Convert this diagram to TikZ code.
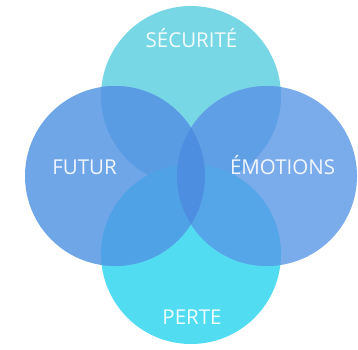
\documentclass[tikz,border=0pt]{standalone}
\usepackage{fontspec}
\setmainfont{Open Sans}

% single-circle colours
\definecolor{cTop}{HTML}{78D7E5}
\definecolor{cBot}{HTML}{52DCF2}
\definecolor{cLeft}{HTML}{6FA6E8}
\definecolor{cRight}{HTML}{7AABEB}
% overlap colours
\definecolor{cTL}{HTML}{5A9CE4}
\definecolor{cTR}{HTML}{5E9FE5}
\definecolor{cBL}{HTML}{50A2E6}
\definecolor{cBR}{HTML}{54A6E8}
\definecolor{cLens}{HTML}{4D8EE0}

\newcommand{\rad}{90}

\tikzset{
  label text/.style={text=white, text opacity=0.9, font=\fontsize{20.5}{24}\selectfont, anchor=base, inner sep=0pt},
}

\begin{document}
\begin{tikzpicture}[x=1pt, y=-1pt]
  \useasboundingbox (0,0) rectangle (358,349);

  \coordinate (T) at (191,96);
  \coordinate (B) at (191,254);
  \coordinate (L) at (115,176);
  \coordinate (R) at (267,176);

  % the four circles
  \fill[cTop]   (T) circle[radius=\rad];
  \fill[cBot]   (B) circle[radius=\rad];
  \fill[cLeft]  (L) circle[radius=\rad];
  \fill[cRight] (R) circle[radius=\rad];

  % overlaps with the left circle
  \begin{scope}
    \clip (L) circle[radius=\rad];
    \fill[cTL] (T) circle[radius=\rad];
    \fill[cBL] (B) circle[radius=\rad];
  \end{scope}

  % overlaps with the right circle
  \begin{scope}
    \clip (R) circle[radius=\rad];
    \fill[cTR] (T) circle[radius=\rad];
    \fill[cBR] (B) circle[radius=\rad];
    % central lens of left and right
    \clip (L) circle[radius=\rad];
    \fill[cLens] (R) circle[radius=\rad];
  \end{scope}

  % labels
  \node[label text] (securite) at (191.5,47.5) {SÉCURITÉ};
  \node[label text] (futur)    at (84.5,174.3) {FUTUR};
  \node[label text] (emotions) at (282.5,174.3) {ÉMOTIONS};
  \node[label text] (perte)    at (192,324) {PERTE};
\end{tikzpicture}
\end{document}
